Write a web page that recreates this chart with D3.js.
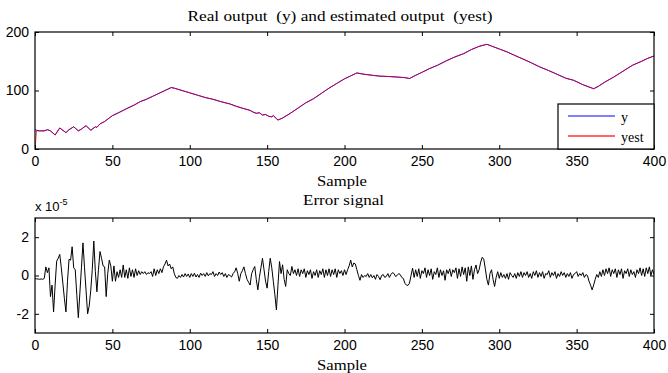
<!DOCTYPE html>
<html><head><meta charset="utf-8">
<script src="https://cdn.jsdelivr.net/npm/d3@7"></script>
<style>
body{margin:0;background:#fff;}
svg{display:block;}
.tick text{font-family:"Liberation Sans",Arial,sans-serif;font-size:14px;fill:#000;}
.serif{font-family:"Liberation Serif","Times New Roman",serif;font-size:14px;fill:#000;}
</style></head>
<body><svg id="c" width="668" height="373"></svg>
<script>
// ---- data ----
const xTicks = [0,50,100,150,200,250,300,350,400];
const yTicksTop = [0,100,200];
const yTicksBot = [-2,0,2];
const legendLabels = ["y","yest"];
// real output y: [sample, value]
const yKnots = [[0,33],[1,32],[3,31],[6,31],[8,33],[10,31],[13,24],[16,36],[20,28],[22,33],[25,38],[28,31],[30,34],[33,40],[36,32],[39,38],[40,37],[42,43],[45,47],[48,53],[50,57],[54,62],[57,66],[60,70],[64,75],[68,81],[72,85],[76,90],[80,95],[84,100],[88,105],[90,104],[95,100],[100,96],[105,92],[110,88],[115,85],[120,81],[126,77],[130,73],[135,69],[139,66],[141,63],[143,61],[145,62],[147,58],[149,59],[151,56],[153,55],[154,57],[156,52],[157,49.5],[160,53],[165,61],[170,70],[175,79],[180,86],[185,95],[190,104],[195,112],[200,120],[204,125],[208,130],[212,128],[218,126],[223,124.5],[228,124],[234,123],[239,122],[242,120.5],[246,126],[250,131],[255,137.5],[260,143],[266,151],[271,157],[277,163],[282,170],[287,175.5],[292,179],[295,176],[300,171],[305,166],[310,160],[316,153],[321,147],[326,140.5],[332,134],[338,127],[343,121],[348,117.5],[354,110],[358,106],[361,103],[364,107],[368,114],[374,123],[380,133],[386,143],[392,150],[396,155],[400,159]];
// estimated output yest: starts at 0, then follows y
const yestStart = [[0,0],[1,31]];
const yestKnots = yestStart.concat(yKnots.filter(d => d[0] >= 3));
// error signal, in units of 1e-5, one value per sample 0..400
const errorE5 = [
-0.15,-0.18,-0.18,-0.2,-0.18,-0.2,-0.15,0.45,0.15,0.4,
-1.1,-0.5,-1.9,-0.5,0.75,0.9,1.1,0.4,-0.4,-1.2,
-1.9,-0.3,0.85,0.8,1.5,0.4,0.3,-1.0,-2.2,-0.9,
0.4,1.7,0.4,-0.8,-2.0,-1.6,-0.8,0.3,1.8,0.2,
-0.85,0.3,1.25,0.9,0.5,0.45,-1.1,0.1,0.8,0.5,
-0.3,0.5,-0.3,0.2,-0.1,0.3,-0.1,0.55,-0.1,0.3,
-0.15,0.4,-0.05,0.3,-0.1,0.35,0.0,0.25,0.05,0.2,
0.1,0.2,0.05,0.15,0.1,0.2,-0.05,0.35,0.0,0.3,
0.1,0.35,0.15,0.45,0.6,0.8,0.5,0.6,0.35,0.45,
0.1,-0.1,-0.15,0.0,-0.1,0.05,-0.08,0.1,-0.05,0.08,
-0.1,0.1,-0.05,0.12,-0.08,0.05,-0.1,0.12,0.0,0.1,
-0.05,0.15,-0.02,0.1,0.05,0.2,-0.05,0.1,0.0,0.18,
0.05,0.15,-0.05,0.1,-0.1,0.05,0.0,-0.08,0.1,0.2,
0.4,0.1,-0.3,0.1,0.25,0.45,0.1,-0.2,-0.35,-0.5,
0.1,0.3,0.47,-0.2,-0.75,-0.1,0.4,0.9,0.3,-0.3,
-0.66,0.2,0.9,0.4,-0.3,-1.0,-1.8,-0.5,0.73,0.1,
0.56,-0.2,-0.57,0.3,0.1,0.0,0.47,0.1,0.3,0.0,
0.35,-0.05,0.3,0.1,0.35,-0.1,0.25,0.05,0.3,-0.15,
0.2,0.0,0.3,-0.1,0.25,0.05,0.35,-0.1,0.3,0.0,
0.35,-0.05,0.3,0.05,0.35,-0.1,0.3,0.1,0.25,0.0,
0.3,0.05,0.3,0.5,0.8,0.45,0.65,0.6,0.3,0.0,
-0.25,0.05,-0.1,0.0,-0.05,0.1,-0.1,0.05,-0.12,0.0,
-0.2,0.05,-0.05,-0.22,0.0,0.05,-0.1,-0.05,0.1,-0.1,
0.05,0.15,0.1,-0.05,0.0,0.1,0.05,-0.1,-0.15,-0.4,
-0.5,-0.52,-0.4,0.0,0.38,-0.1,0.3,-0.05,0.35,-0.15,
0.25,0.1,0.4,-0.1,0.3,0.0,0.35,-0.2,0.2,0.05,
0.4,-0.1,0.3,0.0,0.25,-0.25,0.3,0.1,0.35,-0.05,
0.3,0.15,0.4,-0.15,0.35,-0.05,0.45,0.05,0.4,-0.3,
0.45,0.0,0.5,-0.2,0.3,0.55,0.1,0.3,0.7,0.95,
0.85,0.35,-0.2,-0.5,0.1,0.3,-0.2,-0.57,-0.1,0.2,
-0.15,0.15,-0.1,0.05,-0.15,0.1,-0.2,0.15,0.0,-0.1,
0.1,-0.15,0.15,-0.05,0.2,-0.1,0.15,0.0,0.2,-0.1,
0.1,-0.15,0.2,0.0,0.25,-0.1,0.15,-0.05,0.2,-0.15,
0.1,0.05,0.25,-0.1,0.15,0.0,0.2,-0.15,0.1,-0.05,
0.2,0.0,0.15,-0.1,0.1,-0.05,0.15,-0.15,0.05,0.1,
0.2,-0.05,0.1,0.0,0.15,-0.1,0.05,0.0,-0.3,-0.5,
-0.75,-0.5,-0.2,0.05,-0.1,0.2,-0.05,0.3,0.0,0.35,
0.1,0.4,-0.05,0.3,0.1,0.35,-0.1,0.3,0.05,0.35,
-0.15,0.25,0.1,0.35,-0.05,0.3,0.05,0.2,-0.1,0.3,
0.1,0.4,0.0,0.35,-0.05,0.4,0.1,0.45,0.0,0.3,
0.05];

// ---- drawing ----
const svg = d3.select("#c");
const L = 35, R = 654;
const top1 = {t:32, b:149}, bot1 = {t:218, b:333};

const x = d3.scaleLinear().domain([0,400]).range([L,R]);
const yT = d3.scaleLinear().domain([0,200]).range([top1.b, top1.t]);
const yB = d3.scaleLinear().domain([-3,3]).range([bot1.b, bot1.t]);

function frame(box, yScale, yTicks) {
  const g = svg.append("g");
  g.append("g").attr("transform",`translate(0,${box.b})`)
    .call(d3.axisBottom(x).tickValues(xTicks).tickSize(-4).tickPadding(7).tickFormat(d=>String(d)))
    .call(a=>a.select(".domain").remove());
  g.append("g").attr("transform",`translate(0,${box.t})`)
    .call(d3.axisTop(x).tickValues(xTicks).tickSize(-4).tickFormat(""))
    .call(a=>a.select(".domain").remove());
  g.append("g").attr("transform",`translate(${L},0)`)
    .call(d3.axisLeft(yScale).tickValues(yTicks).tickSize(-4).tickPadding(6).tickFormat(d=>String(d)))
    .call(a=>a.select(".domain").remove());
  g.append("g").attr("transform",`translate(${R},0)`)
    .call(d3.axisRight(yScale).tickValues(yTicks).tickSize(-4).tickFormat(""))
    .call(a=>a.select(".domain").remove());
  g.selectAll(".tick line").attr("stroke","#000");
  return g;
}

// clip paths
svg.append("clipPath").attr("id","clipT").append("rect")
  .attr("x",L).attr("y",top1.t).attr("width",R-L).attr("height",top1.b-top1.t);
svg.append("clipPath").attr("id","clipB").append("rect")
  .attr("x",L).attr("y",bot1.t).attr("width",R-L).attr("height",bot1.b-bot1.t);

// top lines
const lineT = d3.line().x(d=>x(d[0])).y(d=>yT(d[1]));
const gT = svg.append("g").attr("clip-path","url(#clipT)");
gT.append("path").datum(yKnots).attr("d",lineT).attr("fill","none").attr("stroke","#0000ff").attr("stroke-width",1);
gT.append("path").datum(yestKnots).attr("d",lineT).attr("fill","none").attr("stroke","#ff0000").attr("stroke-opacity",0.7).attr("stroke-width",1);

// bottom line
const lineB = d3.line().x((d,i)=>x(i)).y(d=>yB(d));
svg.append("g").attr("clip-path","url(#clipB)")
  .append("path").datum(errorE5).attr("d",lineB).attr("fill","none").attr("stroke","#000").attr("stroke-width",1);

frame(top1, yT, yTicksTop);
frame(bot1, yB, yTicksBot);

// boxes
[top1, bot1].forEach(b=>{
  svg.append("rect").attr("x",L).attr("y",b.t).attr("width",R-L).attr("height",b.b-b.t)
    .attr("fill","none").attr("stroke","#000").attr("stroke-width",1.2);
});

// legend
const lg = svg.append("g");
lg.append("rect").attr("x",558).attr("y",104).attr("width",R-558).attr("height",top1.b-104)
  .attr("fill","#fff").attr("stroke","#000").attr("stroke-width",1.2);
const legColors = ["#5555ff","#ff3333"];
legendLabels.forEach((lab,i)=>{
  const yy = 116 + i*20;
  lg.append("line").attr("x1",568).attr("x2",615).attr("y1",yy).attr("y2",yy)
    .attr("stroke",legColors[i]).attr("stroke-width",1.5);
  lg.append("text").attr("class","serif").attr("x",621).attr("y",yy+5.5).attr("font-size","15px").text(lab);
});

// texts
function stxt(t, cx, y, w) {
  svg.append("text").attr("class","serif").attr("x",cx).attr("y",y)
    .attr("text-anchor","middle").attr("textLength",w).attr("lengthAdjust","spacingAndGlyphs")
    .style("white-space","pre").text(t);
}
stxt("Real output  (y) and estimated output  (yest)", 340, 21, 305);
stxt("Sample", 342, 186, 50);
stxt("Error signal", 343.5, 205, 81);
stxt("Sample", 342, 370, 50);

const ex = svg.append("text").attr("x",35).attr("y",211)
  .attr("font-family","Liberation Sans, Arial, sans-serif").attr("font-size","13px");
ex.append("tspan").text("x 10");
ex.append("tspan").attr("dy",-6).attr("font-size","9px").text("-5");
</script></body></html>
